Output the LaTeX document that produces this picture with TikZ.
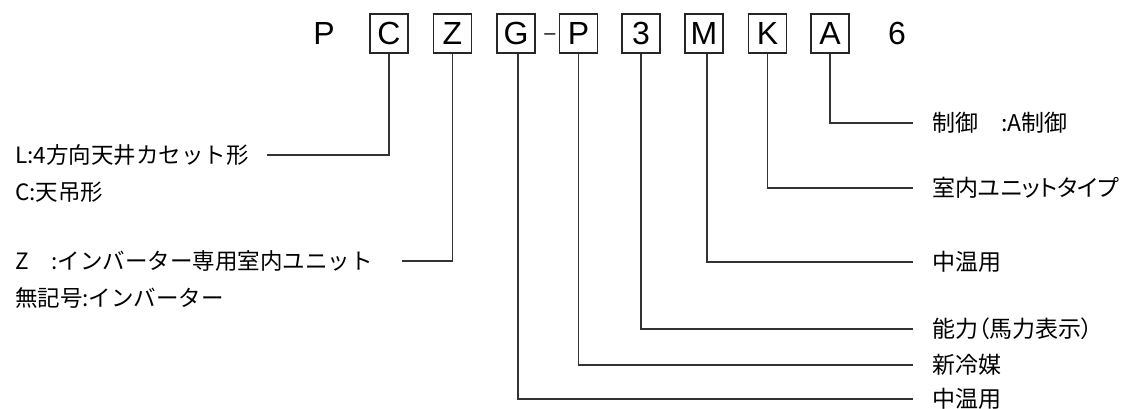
\documentclass[tikz,border=0pt]{standalone}
\usepackage{fontspec}
\setmainfont{Noto Sans CJK JP}
\newfontfamily\propfont{Noto Sans CJK JP}[RawFeature=+palt]
\newfontfamily\codefont{Liberation Sans}
\begin{document}
\begin{tikzpicture}[x=1pt,y=-1pt,
  codebox/.style={draw=black!85, line width=1.1pt, minimum width=38pt, minimum height=39pt,
    inner sep=0pt, font=\codefont\fontsize{32}{32}\selectfont},
  codechar/.style={inner sep=0pt, font=\codefont\fontsize{32}{32}\selectfont},
  leftlabel/.style={anchor=west, inner sep=0pt, font=\fontsize{22.5}{22.5}\selectfont},
  rightlabel/.style={anchor=west, inner sep=0pt, font=\propfont\fontsize{23}{23}\selectfont},
  lead/.style={draw=black!80, line width=1.3pt}]
\useasboundingbox (0,0) rectangle (1133,409);

% model code row
\node[codechar] (cP) at (324,33.5) {P};
\node[codebox] (bC) at (389,33.5) {C};
\node[codebox] (bZ) at (452.5,33.5) {Z};
\node[codebox] (bG) at (516,33.5) {G};
\node[inner sep=0pt, font=\codefont\fontsize{20}{20}\selectfont] (dash) at (550,37) {–};
\node[codebox] (bP) at (578.5,33.5) {P};
\node[codebox] (b3) at (641,33.5) {3};
\node[codebox] (bM) at (704,33.5) {M};
\node[codebox] (bK) at (767.5,33.5) {K};
\node[codebox] (bA) at (830,33.5) {A};
\node[codechar] (c6) at (897,33.5) {6};

% explanations on the left
\node[leftlabel] (tL) at (15,155) {L:4方向天井カセット形};
\node[leftlabel] (tC) at (15,192) {C:天吊形};
\node[leftlabel] (tZ) at (15,261) {Z　:インバーター専用室内ユニット};
\node[leftlabel] (tN) at (15,298) {無記号:インバーター};

% explanations on the right
\node[rightlabel] (rA) at (932,123) {制御　:A制御};
\node[rightlabel] (rK) at (932,188) {室内ユニットタイプ};
\node[rightlabel] (rM) at (932,262) {中温用};
\node[rightlabel] (r3) at (932,329) {能力（馬力表示）};
\node[rightlabel] (rP) at (932,365) {新冷媒};
\node[rightlabel] (rG) at (932,399) {中温用};

% free ends of the leaders
\coordinate (eC) at (267,155);
\coordinate (eZ) at (402,261);
\coordinate (eA) at (913,123);
\coordinate (eK) at (913,188);
\coordinate (eM) at (913,262);
\coordinate (e3) at (913,329);
\coordinate (eP) at (913,365);
\coordinate (eG) at (913,399);

% leaders
\draw[lead] (bC.south) |- (eC);
\draw[lead] (bZ.south) |- (eZ);
\draw[lead] (bA.south) |- (eA);
\draw[lead] (bK.south) |- (eK);
\draw[lead] ([xshift=3pt]bM.south) |- (eM);
\draw[lead] (b3.south) |- (e3);
\draw[lead] (bP.south) |- (eP);
\draw[lead] ([xshift=2pt]bG.south) |- (eG);
\end{tikzpicture}
\end{document}
